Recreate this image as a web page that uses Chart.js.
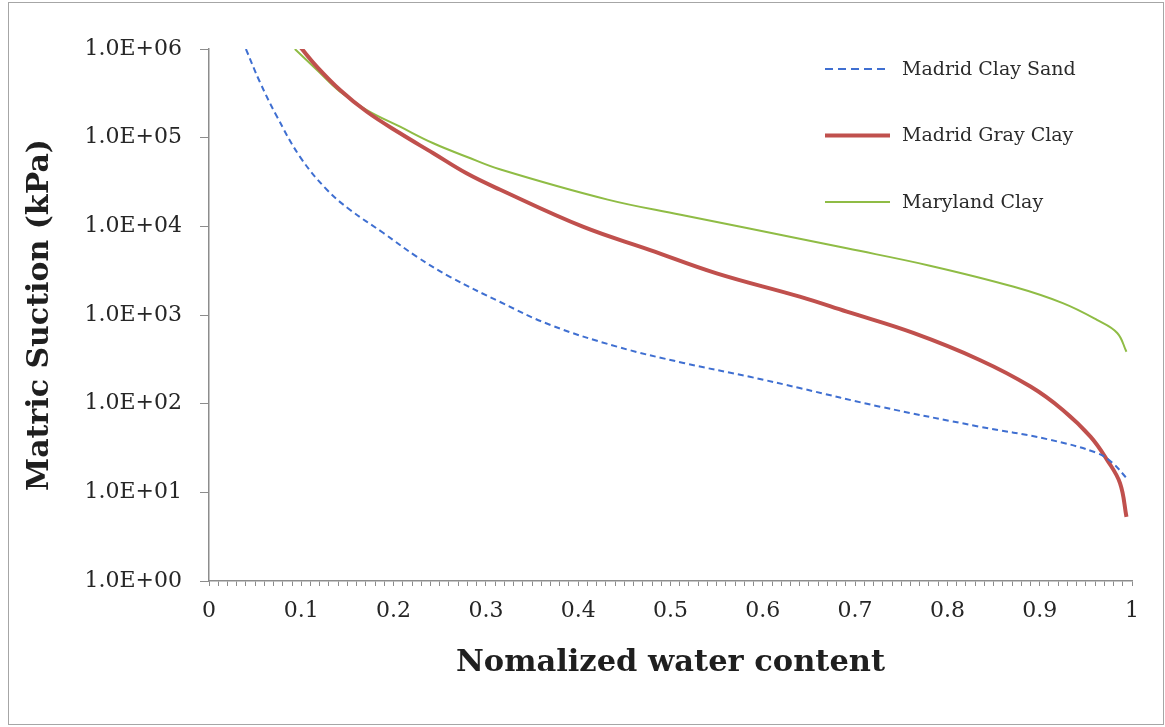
<!DOCTYPE html>
<html>
<head>
<meta charset="utf-8">
<script src="https://cdn.jsdelivr.net/npm/chart.js@4.4.0/dist/chart.umd.min.js"></script>
<style>
    body { margin: 0; background: #fff; }
    #frame { position: absolute; left: 8px; top: 2px; width: 1154px; height: 721px; border: 1px solid #a6a6a6; }
    #wrap { position: absolute; left: 0; top: 0; width: 1165px; height: 727px; }
</style>
</head>
<body>
<div id="frame"></div>
<div id="wrap"><canvas id="chart" width="1165" height="727"></canvas></div>
<script>
// Data (x = normalized water content, y = suction in kPa)
const sandX = [0.040, 0.055, 0.073, 0.099, 0.128, 0.153, 0.189, 0.225, 0.261, 0.315, 0.370, 0.442, 0.514, 0.586, 0.640, 0.727, 0.835, 0.908, 0.962, 0.979, 0.994];
const sandY = [1.0e6, 4.27e5, 1.78e5, 6.0e4, 2.57e4, 1.53e4, 8.4e3, 4.55e3, 2.7e3, 1.41e3, 771, 440, 288, 201, 150, 92.5, 55, 39.8, 27.8, 21.4, 14.5];

const grayX = [0.099, 0.117, 0.142, 0.171, 0.207, 0.243, 0.279, 0.315, 0.405, 0.478, 0.550, 0.640, 0.691, 0.763, 0.835, 0.890, 0.925, 0.955, 0.973, 0.987, 0.994];
const grayY = [1.05e6, 6.3e5, 3.45e5, 1.96e5, 1.12e5, 6.67e4, 3.96e4, 2.6e4, 9.9e3, 5.4e3, 2.95e3, 1.61e3, 1.09e3, 627, 311, 156, 85, 42.5, 23.2, 12.7, 5.3];

const marylandX = [0.093, 0.117, 0.142, 0.171, 0.207, 0.243, 0.279, 0.315, 0.432, 0.511, 0.584, 0.640, 0.691, 0.781, 0.872, 0.925, 0.962, 0.984, 0.994];
const marylandY = [1.0e6, 5.8e5, 3.3e5, 2.05e5, 1.33e5, 8.65e4, 6.1e4, 4.4e4, 2.0e4, 1.35e4, 9.5e3, 7.25e3, 5.65e3, 3.6e3, 2.08e3, 1.36e3, 880, 627, 385];

const seriesNames = ['Madrid Clay Sand', 'Madrid Gray Clay', 'Maryland Clay'];
const yTicks = [1, 10, 100, 1000, 10000, 100000, 1000000];

const serif = "'DejaVu Serif', serif";

function toPoints(xs, ys) {
    return xs.map((x, i) => ({ x: x, y: ys[i] }));
}

// "1.0E+06" style labels like Excel
function sciLabel(v) {
    const exp = Math.round(Math.log10(v));
    const mant = v / Math.pow(10, exp);
    return mant.toFixed(1) + 'E' + (exp < 0 ? '-' : '+') + String(Math.abs(exp)).padStart(2, '0');
}

// legend drawn inside the plot area, top right, one row per series
const innerLegend = {
    id: 'innerLegend',
    afterDraw(chart) {
        const ctx = chart.ctx;
        const x0 = chart.chartArea.right - 307;
        chart.data.datasets.forEach((ds, i) => {
            const y = chart.chartArea.top + 20 + i * 66.5;
            ctx.save();
            ctx.strokeStyle = ds.borderColor;
            ctx.lineWidth = ds.borderWidth;
            ctx.setLineDash(i === 0 ? [8, 5] : []);
            ctx.beginPath();
            ctx.moveTo(x0, y);
            ctx.lineTo(x0 + 65, y);
            ctx.stroke();
            ctx.setLineDash([]);
            ctx.fillStyle = '#2b2b2b';
            ctx.font = '19px ' + serif;
            ctx.textBaseline = 'middle';
            ctx.fillText(ds.label, x0 + 77, y + 1);
            ctx.restore();
        });
    }
};

const ctx = document.getElementById('chart').getContext('2d');
new Chart(ctx, {
    type: 'line',
    data: {
        datasets: [
            {
                label: seriesNames[0],
                data: toPoints(sandX, sandY),
                borderColor: '#3f6fd1',
                borderWidth: 2,
                borderDash: [6, 4],
                pointRadius: 0,
                tension: 0.4
            },
            {
                label: seriesNames[1],
                data: toPoints(grayX, grayY),
                borderColor: '#c0504d',
                borderWidth: 4,
                pointRadius: 0,
                tension: 0.4
            },
            {
                label: seriesNames[2],
                data: toPoints(marylandX, marylandY),
                borderColor: '#8fbc45',
                borderWidth: 2,
                pointRadius: 0,
                tension: 0.4
            }
        ]
    },
    options: {
        responsive: false,
        animation: false,
        layout: { padding: { left: 0, top: 49, right: 33, bottom: 0 } },
        plugins: {
            legend: { display: false },
            tooltip: { enabled: false }
        },
        scales: {
            x: {
                type: 'linear',
                min: 0,
                max: 1,
                afterFit: s => { s.height = 146; },
                border: { color: '#8c8c8c', width: 1.5 },
                grid: { drawOnChartArea: false, drawTicks: true, tickLength: 5, color: '#8c8c8c', lineWidth: 1 },
                ticks: {
                    stepSize: 0.01,
                    autoSkip: false,
                    maxRotation: 0,
                    padding: 12,
                    color: '#262626',
                    font: { family: serif, size: 22 },
                    callback: v => {
                        const n = Math.round(v * 100);
                        if (n % 10 !== 0) return '';
                        return n === 0 ? '0' : n === 100 ? '1' : (n / 100).toFixed(1);
                    }
                },
                title: {
                    display: true,
                    text: 'Nomalized water content',
                    color: '#1f1f1f',
                    font: { family: serif, size: 30.5, weight: 'bold' },
                    padding: { top: 0, bottom: 46 }
                }
            },
            y: {
                type: 'logarithmic',
                min: 1,
                max: 1000000,
                afterFit: s => { s.width = 209; },
                afterBuildTicks: s => { s.ticks = yTicks.map(v => ({ value: v })); },
                border: { color: '#8c8c8c', width: 1.5 },
                grid: { drawOnChartArea: false, drawTicks: true, tickLength: 9, color: '#8c8c8c' },
                ticks: {
                    padding: 18,
                    color: '#262626',
                    font: { family: serif, size: 22 },
                    callback: v => sciLabel(v)
                },
                title: {
                    display: true,
                    text: 'Matric Suction (kPa)',
                    color: '#1f1f1f',
                    font: { family: serif, size: 30, weight: 'bold' },
                    padding: { top: 22, bottom: 0 }
                }
            }
        }
    },
    plugins: [innerLegend]
});
</script>
</body>
</html>
